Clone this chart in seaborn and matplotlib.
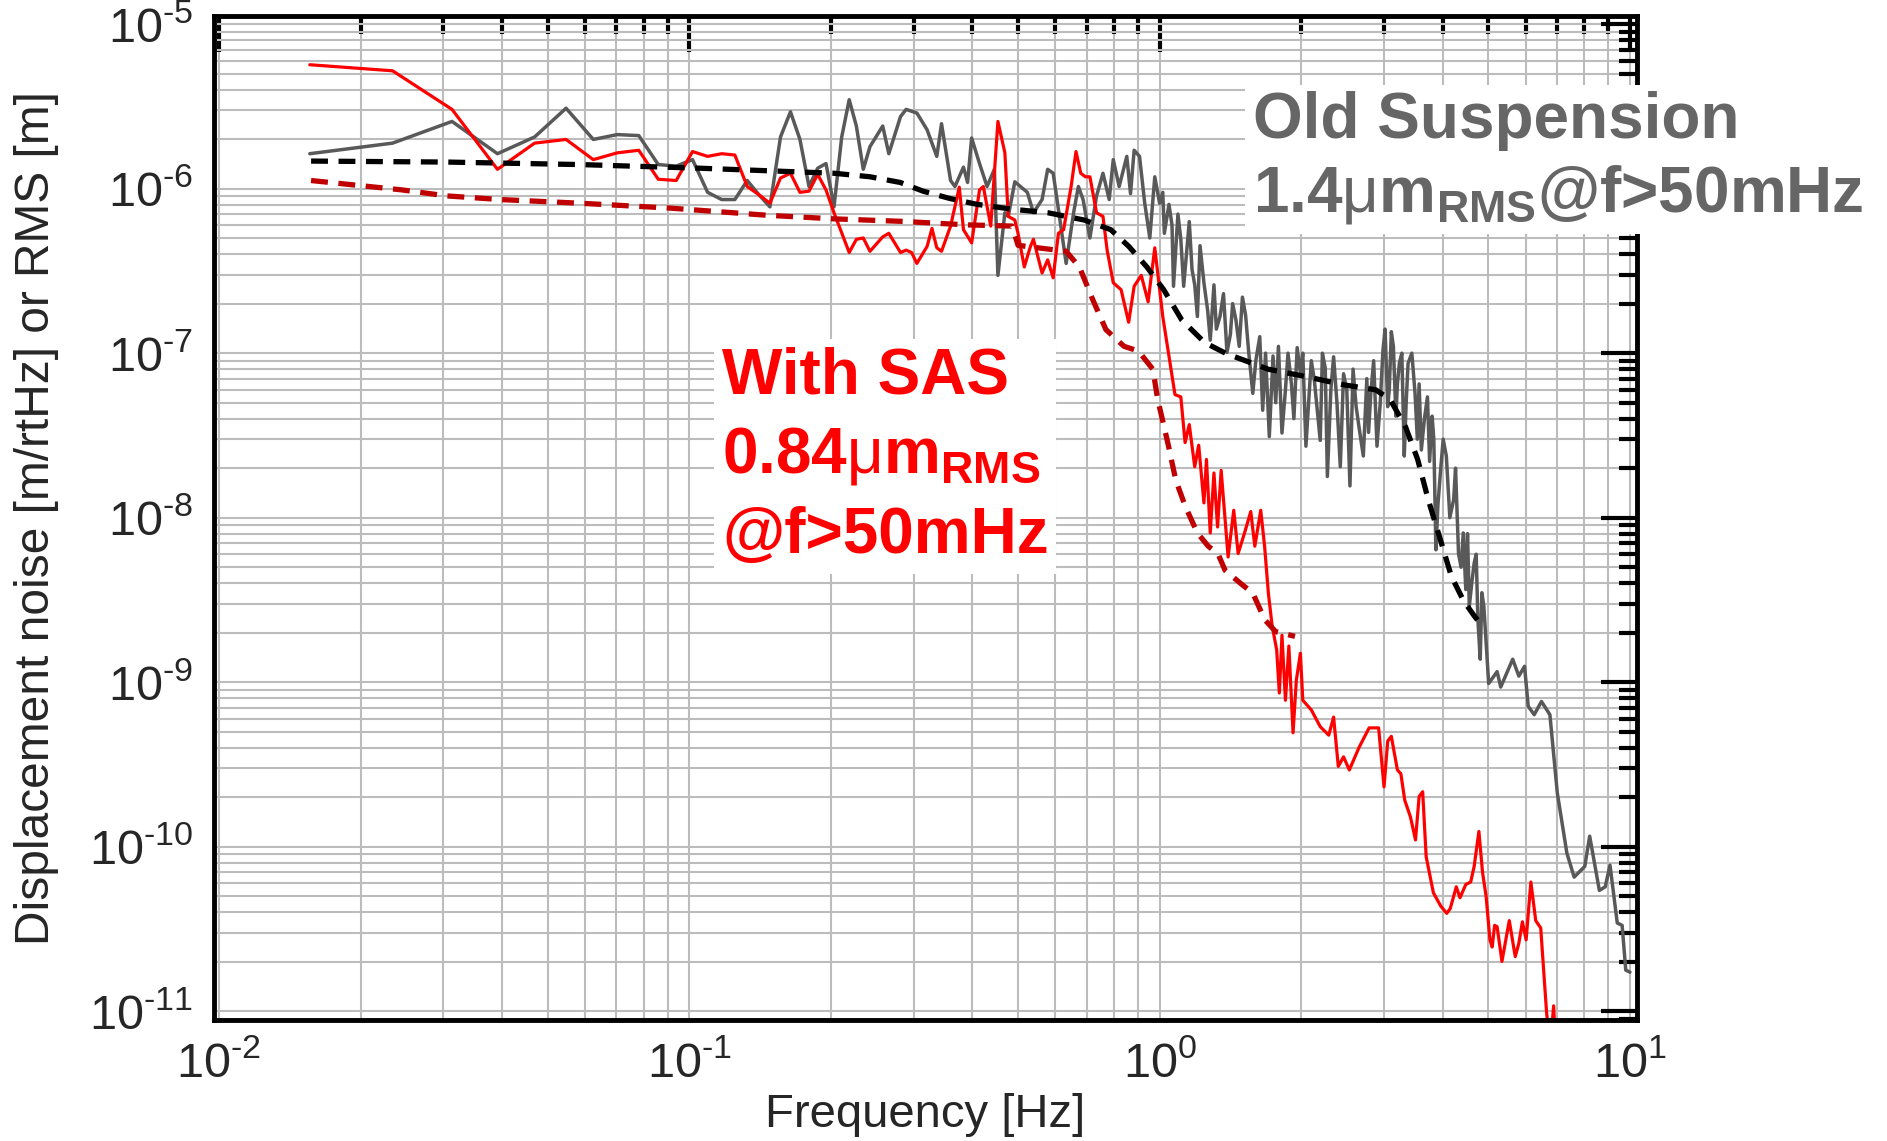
import matplotlib
matplotlib.use('Agg')
import matplotlib.pyplot as plt
import numpy as np
import pandas as pd
import seaborn as sns
from matplotlib.ticker import FixedLocator, FuncFormatter, NullFormatter

# Old suspension, displacement ASD [m/rtHz]
old_asd_f = [0.0156, 0.0234, 0.0313, 0.0391, 0.0469, 0.0547, 0.0625, 0.0703, 0.0781, 0.0859,
             0.0938, 0.1016, 0.1094, 0.1172, 0.125, 0.1328, 0.1406, 0.1484, 0.1563, 0.1641,
             0.1719, 0.1797, 0.1875, 0.1953, 0.2031, 0.2109, 0.2188, 0.2266, 0.2344, 0.2422,
             0.2578, 0.2656, 0.2813, 0.2891, 0.3047, 0.3203, 0.3281, 0.3359, 0.3438, 0.3594,
             0.3672, 0.3828, 0.3906, 0.3984, 0.4141, 0.4297, 0.4453, 0.4531, 0.4688, 0.4766,
             0.4922, 0.5234, 0.5391, 0.5625, 0.5781, 0.5938, 0.6016, 0.6328, 0.6563, 0.6719,
             0.6875, 0.7109, 0.7344, 0.7578, 0.7813, 0.7969, 0.8203, 0.8516, 0.8672, 0.8828,
             0.9063, 0.9297, 0.9531, 0.9766,
             1.0, 1.0156, 1.0234, 1.0469, 1.0625, 1.0703, 1.0938, 1.1094, 1.125, 1.1406,
             1.1563, 1.1719, 1.1875, 1.2031, 1.2188, 1.2422, 1.2656, 1.2813, 1.3047, 1.3203,
             1.3438, 1.3672, 1.3906, 1.4141, 1.4297, 1.4531, 1.4766, 1.5, 1.5234, 1.5469,
             1.5781, 1.6016, 1.6328, 1.6563, 1.6797, 1.7109, 1.7422, 1.7656, 1.7891, 1.8203,
             1.8516, 1.875, 1.9063, 1.9297, 1.9609, 1.9922, 2.0156, 2.0469, 2.0781, 2.1016,
             2.1328, 2.1641, 2.1953, 2.2188, 2.25, 2.2734, 2.3125, 2.3438, 2.3828, 2.4219,
             2.4609, 2.5, 2.5391, 2.5781, 2.6172, 2.6563, 2.7109, 2.7578, 2.7813, 2.8125,
             2.8516, 2.8984, 2.9453, 2.9844, 3.0156, 3.0547, 3.0781, 3.1094, 3.1406, 3.1797,
             3.2031, 3.2344, 3.2734, 3.3125, 3.3438, 3.375, 3.4375, 3.4922, 3.5313, 3.5625,
             3.6016, 3.6563, 3.7109, 3.75, 3.7969, 3.8281, 3.8672, 3.9063, 3.9531, 4.0078,
             4.0703, 4.1406, 4.2188, 4.2578, 4.3203, 4.375, 4.4219, 4.4766, 4.5156, 4.5547,
             4.6094, 4.6641, 4.7109, 4.75, 4.8047, 4.8438, 4.8906,
             5.0078, 5.2188, 5.3125, 5.6328, 5.8047, 5.9688, 6.0781, 6.2578,
             6.4844, 6.7578, 7.0078, 7.3438, 7.6094, 8.0156, 8.2109, 8.6094, 8.8594, 9.0703,
             9.3984, 9.625, 9.7969, 10.0]
old_asd_v = [1.63e-6, 1.89e-6, 2.56e-6, 1.63e-6, 2.06e-6, 3.08e-6, 1.99e-6, 2.13e-6, 2.10e-6, 1.40e-6,
             1.37e-6, 1.50e-6, 9.49e-7, 8.58e-7, 8.58e-7, 1.12e-6, 9.18e-7, 7.75e-7, 2.06e-6, 2.93e-6,
             1.99e-6, 1.03e-6, 1.33e-6, 1.42e-6, 7.75e-7, 2.06e-6, 3.47e-6, 2.40e-6, 1.31e-6, 1.80e-6,
             2.40e-6, 1.63e-6, 2.74e-6, 3.03e-6, 2.88e-6, 2.28e-6, 1.89e-6, 1.57e-6, 2.48e-6, 1.12e-6,
             1.03e-6, 1.35e-6, 1.09e-6, 2.03e-6, 1.42e-6, 1.03e-6, 1.31e-6, 2.97e-7, 7.13e-7, 6.78e-7,
             1.10e-6, 9.49e-7, 7.13e-7, 8.58e-7, 1.31e-6, 1.24e-6, 9.65e-7, 3.51e-7, 7.13e-7, 1.03e-6,
             8.58e-7, 5.01e-7, 9.03e-7, 1.24e-6, 8.58e-7, 1.50e-6, 1.03e-6, 1.57e-6, 9.33e-7, 1.71e-6,
             1.57e-6, 8.15e-7, 5.01e-7, 1.18e-6,
             8.15e-7, 9.5e-7, 5.35e-7, 8.02e-7, 6.0e-7, 2.55e-7, 7.0e-7, 4.92e-7, 2.55e-7, 4.0e-7,
             6.3e-7, 3.23e-7, 2.6e-7, 1.67e-7, 4.5e-7, 2.68e-7, 1.8e-7, 1.20e-7, 2.6e-7, 1.4e-7,
             1.67e-7, 2.3e-7, 1.01e-7, 1.3e-7, 2.0e-7, 1.59e-7, 1.1e-7, 2.19e-7, 1.7e-7, 1.01e-7,
             5.70e-8, 9.0e-8, 1.26e-7, 4.5e-8, 1.0e-7, 3.11e-8, 9.61e-8, 5.0e-8, 1.1e-7, 3.27e-8,
             6.0e-8, 1.0e-7, 6.52e-8, 4.0e-8, 1.08e-7, 7.5e-8, 1.0e-7, 2.72e-8, 5.5e-8, 9.0e-8,
             6.86e-8, 4.5e-8, 2.95e-8, 1.0e-7, 8.12e-8, 1.78e-8, 6.0e-8, 9.5e-8, 4.98e-8, 2.04e-8,
             7.5e-8, 5.99e-8, 1.56e-8, 8.0e-8, 4.73e-8, 3.5e-8, 2.37e-8, 7.0e-8, 3.3e-8, 5.70e-8,
             9.0e-8, 2.72e-8, 5.0e-8, 1.04e-7, 1.4e-7, 4.73e-8, 6.0e-8, 1.35e-7, 1.1e-7, 4.14e-8,
             6.5e-8, 8.68e-8, 1.0e-7, 2.37e-8, 5.0e-8, 8.68e-8, 1.0e-7, 5.70e-8, 3.0e-8, 6.5e-8,
             2.58e-8, 4.0e-8, 5.42e-8, 2.2e-8, 4.14e-8, 3.0e-8, 6.38e-9, 1.2e-8, 1.87e-8, 3.0e-8,
             2.37e-8, 1.0e-8, 1.29e-8, 2.0e-8, 6.06e-9, 5.0e-9, 8.08e-9, 3.66e-9, 8.0e-9, 2.89e-9,
             4.0e-9, 5.30e-9, 6.0e-9, 2.40e-9, 1.38e-9, 3.5e-9, 2.89e-9,
             9.83e-10, 1.16e-9, 9.35e-10, 1.38e-9, 1.09e-9, 1.25e-9, 7.14e-10, 6.35e-10,
             7.64e-10, 6.35e-10, 2.12e-10, 9.15e-11, 6.54e-11, 7.60e-11, 1.16e-10, 5.43e-11, 5.71e-11, 7.73e-11,
             3.44e-11, 3.33e-11, 1.78e-11, 1.73e-11]

# With SAS, displacement ASD [m/rtHz]
sas_asd_f = [0.0156, 0.0234, 0.0313, 0.0391, 0.0469, 0.0547, 0.0625, 0.0703, 0.0781, 0.0859,
             0.0938, 0.1016, 0.1094, 0.1172, 0.125, 0.1328, 0.1406, 0.1484, 0.1563, 0.1641,
             0.1719, 0.1797, 0.1875, 0.1953, 0.2031, 0.2188, 0.2266, 0.2344, 0.2422, 0.2578,
             0.2656, 0.2813, 0.2891, 0.2969, 0.3047, 0.3203, 0.3281, 0.3359, 0.3438, 0.3594,
             0.375, 0.3828, 0.3984, 0.4141, 0.4219, 0.4375, 0.4531, 0.4688, 0.4766, 0.4922,
             0.5, 0.5156, 0.5313, 0.5391, 0.5625, 0.5781, 0.5938, 0.6094, 0.625, 0.6484,
             0.6641, 0.6797, 0.6953, 0.7109, 0.7344, 0.7578, 0.7734, 0.7969, 0.8281, 0.8594,
             0.8828, 0.9141, 0.9453, 0.9766, 1.0, 1.0156, 1.0391, 1.0781, 1.1094, 1.1328,
             1.1563, 1.1875, 1.2109, 1.2422, 1.2578, 1.2813, 1.3047, 1.3281, 1.3516, 1.3984,
             1.4375, 1.4688, 1.5156, 1.5625, 1.5938, 1.6406, 1.6719, 1.7031, 1.7344, 1.7734,
             1.7969, 1.8203, 1.8516, 1.8828, 1.9219, 1.9531, 1.9922, 2.0156, 2.1016, 2.1953,
             2.2891, 2.3438, 2.3984, 2.4609, 2.5313, 2.6563, 2.7891, 2.9219, 3.0, 3.0547,
             3.1094, 3.2031, 3.2578, 3.3203, 3.4141, 3.5, 3.5625, 3.625, 3.6875, 3.8203,
             3.9609, 4.0781, 4.1484, 4.2734, 4.3516, 4.4766, 4.5859, 4.6641, 4.7734, 4.8594,
             4.9453, 5.0391, 5.0938, 5.1563, 5.2188, 5.3438, 5.5391, 5.7031, 5.8047, 5.9063,
             6.0156, 6.1563, 6.3047, 6.4609, 6.6484, 6.7656, 6.8828, 6.9531]
sas_asd_v = [5.66e-6, 5.20e-6, 3.03e-6, 1.31e-6, 1.89e-6, 1.99e-6, 1.50e-6, 1.65e-6, 1.71e-6, 1.14e-6,
             1.12e-6, 1.68e-6, 1.57e-6, 1.63e-6, 1.60e-6, 1.03e-6, 9.18e-7, 8.15e-7, 1.16e-6, 1.24e-6,
             9.49e-7, 9.65e-7, 1.22e-6, 9.82e-7, 7.13e-7, 4.09e-7, 4.92e-7, 5.01e-7, 4.16e-7, 5.09e-7,
             5.35e-7, 4.09e-7, 4.23e-7, 4.09e-7, 3.51e-7, 4.45e-7, 5.73e-7, 4.37e-7, 4.16e-7, 5.92e-7,
             1.02e-6, 5.63e-7, 4.68e-7, 9.82e-7, 1.03e-6, 5.92e-7, 2.56e-6, 1.65e-6, 6.78e-7, 6.44e-7,
             5.35e-7, 3.34e-7, 4.45e-7, 4.92e-7, 3.07e-7, 3.69e-7, 2.87e-7, 5.35e-7, 5.63e-7, 1.03e-6,
             1.68e-6, 1.24e-6, 1.18e-6, 1.18e-6, 7.13e-7, 6.78e-7, 4.23e-7, 2.68e-7, 2.43e-7, 1.54e-7,
             2.55e-7, 2.97e-7, 2.05e-7, 4.37e-7, 2.43e-7, 1.67e-7, 1.10e-7, 5.60e-8, 5.42e-8, 2.86e-8,
             3.68e-8, 2.04e-8, 2.76e-8, 1.23e-8, 2.26e-8, 8.08e-9, 1.87e-8, 8.78e-9, 1.94e-8, 5.77e-9,
             1.11e-8, 6.06e-9, 8.08e-9, 1.09e-8, 6.71e-9, 1.11e-8, 6.71e-9, 3.48e-9, 2.21e-9, 1.58e-9,
             8.60e-10, 1.93e-9, 7.77e-10, 1.66e-9, 4.93e-10, 1.03e-9, 1.50e-9, 7.77e-10, 6.79e-10, 5.37e-10,
             4.77e-10, 6.14e-10, 3.08e-10, 3.52e-10, 2.93e-10, 4.03e-10, 5.28e-10, 5.28e-10, 2.31e-10, 4.39e-10,
             4.69e-10, 2.93e-10, 2.78e-10, 1.92e-10, 1.52e-10, 1.10e-10, 2.02e-10, 2.16e-10, 8.70e-11, 5.25e-11,
             4.36e-11, 3.94e-11, 4.21e-11, 5.71e-11, 4.90e-11, 5.90e-11, 6.11e-11, 7.60e-11, 1.24e-10, 6.99e-11,
             4.99e-11, 2.72e-11, 2.46e-11, 3.33e-11, 3.27e-11, 2.01e-11, 3.56e-11, 2.15e-11, 2.59e-11, 3.50e-11,
             2.72e-11, 6.11e-11, 3.56e-11, 3.21e-11, 9.88e-12, 6.0e-12, 1.08e-11, 6.0e-12]

# Old suspension, integrated RMS [m]
old_rms_f = [0.0157, 0.0305, 0.0586, 0.1056, 0.203, 0.2423, 0.2808, 0.314, 0.3575, 0.4094,
             0.4858, 0.5794, 0.6917, 0.7873, 0.8603, 0.9396, 1.0202, 1.1146, 1.2467, 1.3867,
             1.7033, 2.045, 2.47, 2.879, 3.09, 3.334, 3.537, 3.73, 3.956, 4.172,
             4.425, 4.666, 4.891]
old_rms_v = [1.47e-6, 1.45e-6, 1.40e-6, 1.33e-6, 1.24e-6, 1.18e-6, 1.09e-6, 9.65e-7, 8.72e-7, 8.02e-7,
             7.50e-7, 7.13e-7, 6.44e-7, 5.63e-7, 4.45e-7, 3.34e-7, 2.43e-7, 1.59e-7, 1.16e-7, 9.93e-8,
             7.98e-8, 7.21e-8, 6.41e-8, 5.99e-8, 5.24e-8, 3.56e-8, 2.26e-8, 1.27e-8, 7.30e-9, 4.40e-9,
             3.14e-9, 2.53e-9, 2.13e-9]

# With SAS, integrated RMS [m]
sas_rms_f = [0.0157, 0.0245, 0.0305, 0.0397, 0.0586, 0.0906, 0.146, 0.203, 0.2808, 0.3905,
             0.4858, 0.5001, 0.6327, 0.6753, 0.7205, 0.7689, 0.8402, 0.9016, 0.9676, 0.9906,
             1.0142, 1.0447, 1.0823, 1.1344, 1.2031, 1.2688, 1.3299, 1.3778, 1.4878, 1.578,
             1.673, 1.765, 1.940]
sas_rms_v = [1.12e-6, 9.82e-7, 9.03e-7, 8.58e-7, 8.15e-7, 7.62e-7, 6.89e-7, 6.55e-7, 6.33e-7, 6.02e-7,
             5.92e-7, 4.52e-7, 4.16e-7, 3.34e-7, 2.12e-7, 1.39e-7, 1.10e-7, 1.03e-7, 7.98e-8, 5.24e-8,
             3.93e-8, 2.72e-8, 1.69e-8, 1.17e-8, 8.08e-9, 6.71e-9, 6.06e-9, 4.79e-9, 3.98e-9, 3.48e-9,
             2.40e-9, 2.03e-9, 1.90e-9]

x_decades = [-2, -1, 0, 1]
y_decades = [-11, -10, -9, -8, -7, -6, -5]

order = ['old_asd', 'sas_asd', 'old_rms', 'sas_rms']
palette = {'old_asd': '#595959', 'sas_asd': '#ff0000', 'old_rms': '#000000', 'sas_rms': '#c00000'}
widths = {'old_asd': 2.5, 'sas_asd': 2.3, 'old_rms': 3.8, 'sas_rms': 3.8}
dashes = {'old_asd': '', 'sas_asd': '', 'old_rms': (3.2, 2.0), 'sas_rms': (3.2, 2.0)}

frames = []
for name, f, v in [('old_asd', old_asd_f, old_asd_v), ('sas_asd', sas_asd_f, sas_asd_v),
                   ('old_rms', old_rms_f, old_rms_v), ('sas_rms', sas_rms_f, sas_rms_v)]:
    frames.append(pd.DataFrame({'freq': f, 'amp': v, 'trace': name}))
df = pd.concat(frames, ignore_index=True)

sns.set_style('white')
plt.rcParams['font.family'] = ['Liberation Sans', 'DejaVu Sans']
plt.rcParams['mathtext.fontset'] = 'custom'
plt.rcParams['mathtext.rm'] = 'Liberation Sans'
plt.rcParams['mathtext.bf'] = 'Liberation Sans:bold'

fig = plt.figure(figsize=(18.87, 11.41), dpi=100)
ax = fig.add_axes([0.1134, 0.106, 0.7541, 0.880])
ax.set_xscale('log')
ax.set_yscale('log')

sns.lineplot(data=df, x='freq', y='amp', hue='trace', size='trace', style='trace',
             hue_order=order, size_order=order, style_order=order,
             palette=palette, sizes=widths, dashes=dashes,
             estimator=None, sort=False, legend=False, ax=ax)

xlim = (0.00976, 10.35)
ylim = (8.85e-12, 1.12e-5)
ax.set_xlim(*xlim)
ax.set_ylim(*ylim)


def pow10(val, pos):
    e = int(round(np.log10(val)))
    return r'10$^{\text{%d}}$' % e


def minors(decades, lim):
    out = []
    for d in decades + [decades[0] - 1]:
        for m in range(2, 10):
            v = m * 10.0 ** d
            if lim[0] < v < lim[1]:
                out.append(v)
    return sorted(out)


ax.xaxis.set_major_locator(FixedLocator([10.0 ** d for d in x_decades]))
ax.xaxis.set_minor_locator(FixedLocator(minors(x_decades, xlim)))
ax.yaxis.set_major_locator(FixedLocator([10.0 ** d for d in y_decades]))
ax.yaxis.set_minor_locator(FixedLocator(minors(y_decades, ylim)))
ax.xaxis.set_major_formatter(FuncFormatter(pow10))
ax.yaxis.set_major_formatter(FuncFormatter(pow10))
ax.xaxis.set_minor_formatter(NullFormatter())
ax.yaxis.set_minor_formatter(NullFormatter())

ax.set_axisbelow(True)
ax.grid(True, which='both', color='#bcbcbc', lw=1.5)
ax.tick_params(which='major', direction='in', length=26, width=3, top=True, right=True,
               labelsize=35, pad=15, color='black')
ax.tick_params(which='minor', direction='in', length=13, width=3, top=True, right=True, color='black')
for s in ax.spines.values():
    s.set_visible(True)
    s.set_linewidth(3.5)
    s.set_color('black')

ax.set_xlabel('Frequency [Hz]', fontsize=34)
ax.set_ylabel('Displacement noise [m/rtHz] or RMS [m]', fontsize=34.5)
ax.xaxis.set_label_coords(0.5, -0.073)
ax.yaxis.set_label_coords(-0.109, 0.5)
ax.xaxis.label.set_va('top')

box = dict(boxstyle='square,pad=0.12', facecolor='white', edgecolor='none')
ax.text(0.730, 0.925, 'Old Suspension\n1.4$\\mathrm{\\mu}$m$_{\\mathregular{RMS}}$@f>50mHz',
        transform=ax.transAxes, ha='left', va='top', fontsize=46, fontweight='bold',
        color='#666666', bbox=box, zorder=10, clip_on=False, linespacing=1.24)
ax.text(0.357, 0.671, 'With SAS\n0.84$\\mathrm{\\mu}$m$_{\\mathregular{RMS}}$\n@f>50mHz',
        transform=ax.transAxes, ha='left', va='top', fontsize=46, fontweight='bold',
        color='#ff0000', bbox=box, zorder=10, clip_on=False, linespacing=1.4)

fig.savefig('out.png', dpi=100)
